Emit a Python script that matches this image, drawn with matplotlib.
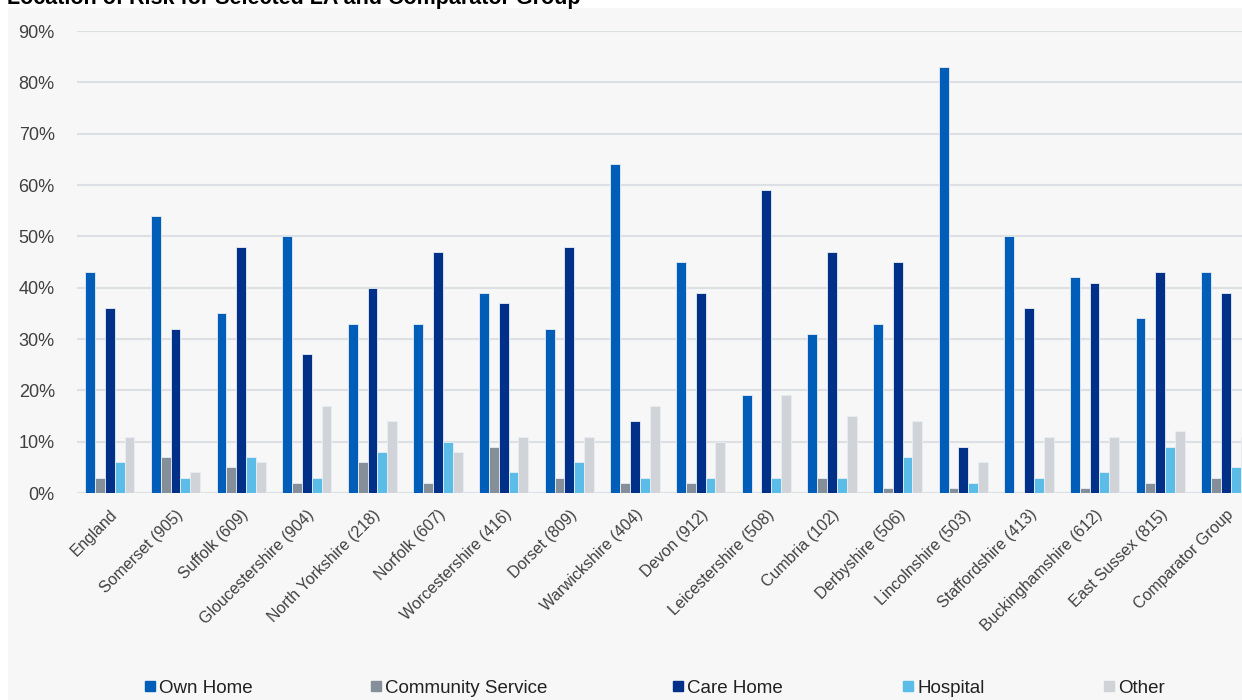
import numpy as np
import matplotlib
matplotlib.use('Agg')
import matplotlib.pyplot as plt
from matplotlib.patches import Rectangle
from matplotlib.lines import Line2D
from matplotlib.ticker import PercentFormatter

plt.rcParams['font.family'] = ['Liberation Sans', 'DejaVu Sans']

areas = ['England', 'Somerset (905)', 'Suffolk (609)', 'Gloucestershire (904)',
         'North Yorkshire (218)', 'Norfolk (607)', 'Worcestershire (416)',
         'Dorset (809)', 'Warwickshire (404)', 'Devon (912)', 'Leicestershire (508)',
         'Cumbria (102)', 'Derbyshire (506)', 'Lincolnshire (503)',
         'Staffordshire (413)', 'Buckinghamshire (612)', 'East Sussex (815)',
         'Comparator Group']

own_home  = [43, 54, 35, 50, 33, 33, 39, 32, 64, 45, 19, 31, 33, 83, 50, 42, 34, 43]
community = [3, 7, 5, 2, 6, 2, 9, 3, 2, 2, 0, 3, 1, 1, 0, 1, 2, 3]
care_home = [36, 32, 48, 27, 40, 47, 37, 48, 14, 39, 59, 47, 45, 9, 36, 41, 43, 39]
hospital  = [6, 3, 7, 3, 8, 10, 4, 6, 3, 3, 3, 3, 7, 2, 3, 4, 9, 5]
other     = [11, 4, 6, 17, 14, 8, 11, 11, 17, 10, 19, 15, 14, 6, 11, 11, 12, 11]

series = ['Own Home', 'Community Service', 'Care Home', 'Hospital', 'Other']
colors = ['#005EB8', '#858F99', '#003087', '#5BBCE8', '#D0D3D8']
values = [own_home, community, care_home, hospital, other]

W, H = 1242, 700
fig = plt.figure(figsize=(W / 100, H / 100), dpi=100)
fig.patch.set_facecolor('white')
# light grey chart panel (behind everything)
fig.patches.append(Rectangle((8 / W, 0), 1, 1 - 8 / H, transform=fig.transFigure,
                             facecolor='#F7F7F7', edgecolor='none', zorder=-10))

fig.text(7 / W, 1 - 4 / H, 'Location of Risk for Selected LA and Comparator Group',
         fontsize=15.5, fontweight='bold', color='#000000', va='baseline', ha='left')

ax = fig.add_axes([77 / W, 207 / H, 18 * 65.65 / W, 462 / H])
ax.set_facecolor('none')
ax.set_zorder(2)

x = np.arange(len(areas))
bw = 0.15
for i, (name, vals, c) in enumerate(zip(series, values, colors)):
    ax.bar(x + (i - 2) * bw, np.array(vals) / 100, width=bw, color=c,
           edgecolor='#E8EEF5', linewidth=0.6, zorder=3, label=name)

ax.set_xlim(-0.5, len(areas) - 0.5)
ax.set_ylim(0, 0.9)
ax.set_yticks(np.arange(0, 0.91, 0.1))
ax.yaxis.set_major_formatter(PercentFormatter(1.0, decimals=0))
ax.grid(axis='y', color='#DCDFE4', linewidth=1.5, zorder=0)
ax.set_axisbelow(True)
for s in ax.spines.values():
    s.set_visible(False)
ax.axhline(0, color='#DCDFE4', linewidth=1.5, zorder=1)

ax.set_xticks(x)
ax.set_xticklabels(areas, rotation=45, ha='right', rotation_mode='anchor',
                   fontsize=11.5, color='#404040')
ax.tick_params(axis='x', length=0, pad=10)
ax.tick_params(axis='y', length=0, pad=16, labelsize=13, labelcolor='#404040')

# legend entries spread along the bottom
leg_x = [145, 371, 673, 903, 1104]
for name, c, lx in zip(series, colors, leg_x):
    h = Line2D([], [], marker='s', linestyle='none', markersize=6.5,
               markerfacecolor=c, markeredgecolor=c)
    fig.legend([h], [name], loc='center left', bbox_to_anchor=(lx / W, 1 - 688 / H),
               frameon=False, handlelength=0.5, handletextpad=0.25,
               borderaxespad=0, borderpad=0, fontsize=13.5,
               labelcolor='#222222')

fig.savefig('out.png', dpi=100, facecolor=fig.get_facecolor())
